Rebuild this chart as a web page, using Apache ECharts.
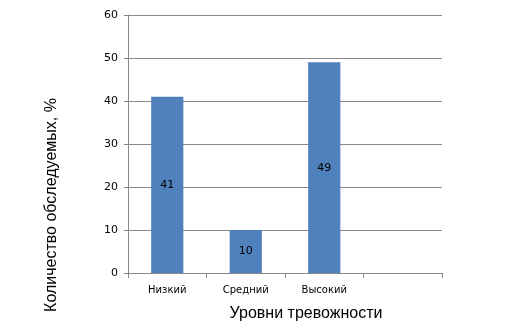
<!DOCTYPE html>
<html><head><meta charset="utf-8">
<script src="https://cdn.jsdelivr.net/npm/echarts@6/dist/echarts.min.js"></script>
<style>html,body{margin:0;padding:0;background:#fff}#c{width:512px;height:327px}</style>
</head><body><div id="c"></div>
<script>
var categories = ['Низкий', 'Средний', 'Высокий', ''];
var values = [41, 10, 49, null];
var yTicks = [0, 10, 20, 30, 40, 50, 60];

var chart = echarts.init(document.getElementById('c'), null, {renderer: 'canvas'});
chart.setOption({
  animation: false,
  grid: {left: 128, right: 70, top: 15, bottom: 52, containLabel: false},
  xAxis: {
    type: 'category',
    data: categories,
    name: 'Уровни тревожности',
    nameLocation: 'middle',
    nameGap: 33,
    nameTextStyle: {fontFamily: 'Liberation Sans', fontSize: 16, color: '#000', padding: [0, 0, 0, 42]},
    axisLine: {lineStyle: {color: '#888', width: 1}},
    axisTick: {show: true, length: 5, lineStyle: {color: '#888'}},
    axisLabel: {fontFamily: 'DejaVu Sans', fontSize: 10, color: '#000', margin: 12}
  },
  yAxis: {
    type: 'value',
    min: yTicks[0], max: yTicks[yTicks.length - 1], interval: 10,
    name: 'Количество обследуемых, %',
    nameLocation: 'middle',
    nameGap: 68,
    nameTextStyle: {fontFamily: 'Liberation Sans', fontSize: 16, color: '#000', padding: [0, 122, 0, 0]},
    axisLine: {show: true, lineStyle: {color: '#888'}},
    axisTick: {show: true, length: 4, lineStyle: {color: '#888'}},
    axisLabel: {fontFamily: 'DejaVu Sans', fontSize: 11, color: '#000', margin: 10},
    splitLine: {lineStyle: {color: '#888', width: 1}}
  },
  series: [{
    type: 'bar',
    data: values,
    barWidth: '41%',
    itemStyle: {color: '#4F81BD'},
    label: {show: true, position: 'inside', fontFamily: 'DejaVu Sans', fontSize: 11, color: '#000'}
  }]
});
</script></body></html>
